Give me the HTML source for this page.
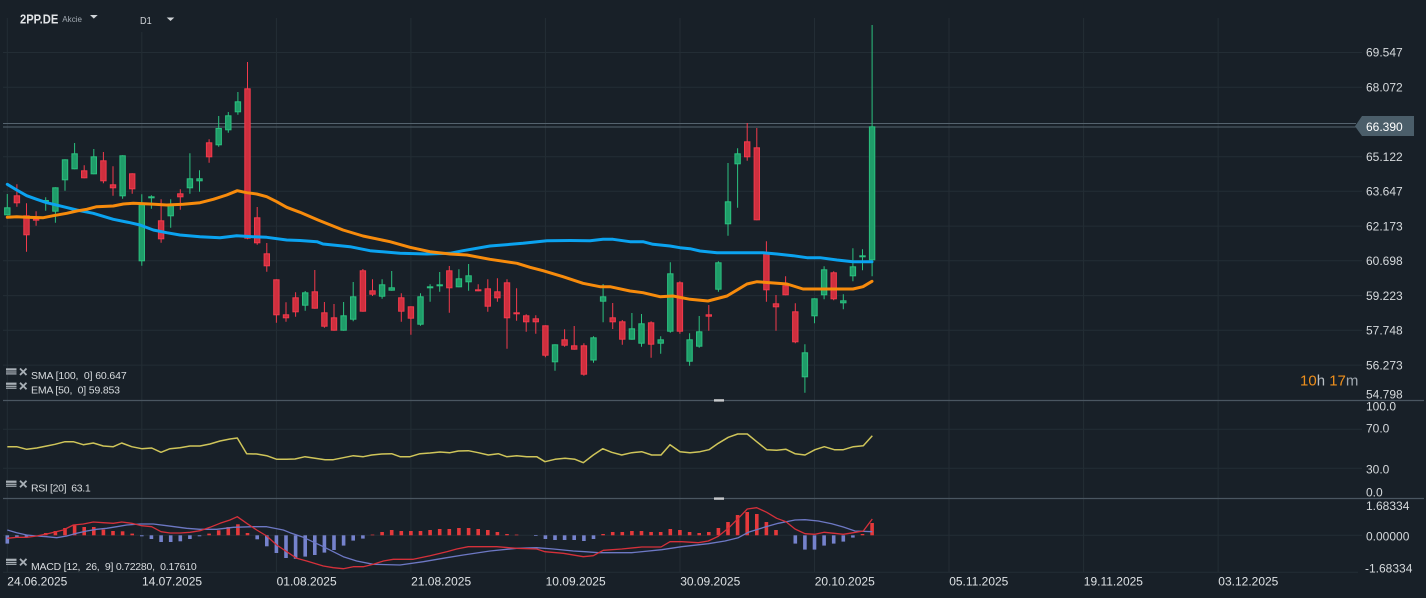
<!DOCTYPE html>
<html><head><meta charset="utf-8"><style>
html,body{margin:0;padding:0;background:#182028;}
svg{display:block;font-family:"Liberation Sans",sans-serif;}
</style></head><body>
<svg width="1426" height="598" viewBox="0 0 1426 598" xmlns="http://www.w3.org/2000/svg">
<rect width="1426" height="598" fill="#182028"/>
<!-- grid -->
<g stroke="#232d35" stroke-width="1" fill="none">
<path d="M3 52.5H1362M3 87.3H1362M3 156.7H1362M3 191.3H1362M3 226.1H1362M3 260.8H1362M3 295.6H1362M3 330.3H1362M3 365.1H1362"/>
<path d="M3 429.3H1362M3 468.3H1362M3 535.3H1362M3 572.3H1358"/>
<path d="M7.3 18V572M141.8 32V572M276.4 18V572M410.9 18V572M545.4 18V572M680 18V572M814.5 18V572M949 18V572M1083.6 18V572M1218.1 18V572"/>
</g>
<!-- separators -->
<g stroke="#4a5661" stroke-width="1.2"><path d="M3 400.5H1424M3 498.5H1424"/></g>
<rect x="714" y="399.2" width="10" height="2.4" fill="#c8cbcd"/>
<rect x="714" y="497.4" width="10" height="2.4" fill="#c8cbcd"/>
<!-- price lines -->
<g stroke="#55636e" stroke-width="1"><path d="M3 123.5H1356M3 127H1356"/></g>

<!-- header -->
<text x="20" y="23.3" font-size="12.5" font-weight="bold" fill="#e2e5e8" textLength="38.3" lengthAdjust="spacingAndGlyphs">2PP.DE</text>
<text x="62.3" y="22" font-size="8.5" fill="#a3abb3" textLength="19.7" lengthAdjust="spacingAndGlyphs">Akcie</text>
<polygon points="90,15 97.7,15 93.8,18.6" fill="#d0d4d8"/>
<text x="140" y="24" font-size="10" fill="#d0d4d8" textLength="11.7" lengthAdjust="spacingAndGlyphs">D1</text>
<polygon points="166.7,17.5 174.3,17.5 170.5,21" fill="#d0d4d8"/>

<!-- candles: wicks -->
<path fill="none" stroke="#2bc07f" stroke-width="1" d="M7.3 194V215.3M45.7 197.3V210.7M55.4 187.3V222.7M65 159.3V190.7M74.6 143V169.3M93.8 149V174.3M122.6 155.3V198.7M141.8 194.3V265.7M151.4 195.3V208.7M170.7 199.3V227.7M189.9 153.3V193.7M199.5 170.3V191.7M218.7 116V146.7M228.3 112V132.7M237.9 92V114.7M305.2 291V310.7M343.6 302V330.7M353.2 282V321.3M382.1 279.3V298.7M391.7 271V290.7M420.5 293.3V325.7M430.1 284.3V301.7M439.7 272V291.7M458.9 269.3V287.3M468.6 264V290.7M555 344.3V370.7M593.5 336.3V362.7M603.1 284V322.3M631.9 313V339.7M641.5 314V346.7M660.7 336.3V353.7M670.3 262.3V332.7M689.6 333.3V365.7M699.2 316V347.7M718.4 261.3V291.7M728 163V235.7M737.6 148.3V207.7M804.9 344.3V392.7M814.5 298.3V323.3M824.1 266.3V299.3M843.3 294.3V309.3M852.9 248.3V281.3M862.5 249.3V270.3M872.1 25V276.3"/>
<path fill="none" stroke="#f23a4c" stroke-width="1" d="M16.9 184.3V206.7M26.5 203.3V251.7M36.1 211.3V225.7M84.2 165.3V178.3M103.4 152V183.3M113 166.3V195.7M132.2 173.3V193.7M161.1 199.3V242.7M180.3 189.3V209.7M209.1 139.3V162.7M247.5 62V239.3M257.2 207V244.7M266.8 243V271.7M276.4 279.3V322.7M286 302.3V321.7M295.6 292.3V316.7M314.8 270V308.7M324.4 302V327.7M334 304V330.7M362.9 269V311.7M372.5 279.3V296M401.3 293.3V321.7M410.9 306.3V334.7M449.3 266V312.7M478.2 284.3V291.3M487.8 279.3V311.7M497.4 278.3V301.7M507 279.3V348.7M516.6 288.3V320.7M526.2 314.3V331.7M535.8 315.3V333.7M545.4 325.3V357.3M564.6 329.3V346.7M574.2 326V349.7M583.9 343.3V375.7M612.7 303V329M622.3 320V344.7M651.1 321.3V357.7M679.9 281.3V333.7M708.8 305V330.7M747.2 123V160.7M756.8 128V220.3M766.4 241.3V301.7M776 295V330.7M785.6 276.3V295.3M795.3 303.3V343.3M833.7 271.3V300.3"/>
<!-- green bodies -->
<g fill="#1f9d69" stroke="#2bc07f" stroke-width="1">
<rect x="4.6" y="207.8" width="5.4" height="7"/>
<rect x="43" y="200.5" width="5.4" height="1"/>
<rect x="52.7" y="187.8" width="5.4" height="23.4"/>
<rect x="62.3" y="159.8" width="5.4" height="20"/>
<rect x="71.9" y="153.8" width="5.4" height="15"/>
<rect x="91.1" y="156.8" width="5.4" height="17"/>
<rect x="119.9" y="155.8" width="5.4" height="40"/>
<rect x="139.1" y="204.8" width="5.4" height="56"/>
<rect x="148.7" y="196.8" width="5.4" height="1"/>
<rect x="168" y="204.2" width="5.4" height="11.6"/>
<rect x="187.2" y="178.8" width="5.4" height="9"/>
<rect x="196.8" y="178.8" width="5.4" height="2"/>
<rect x="216" y="128.5" width="5.4" height="16.3"/>
<rect x="225.6" y="115.8" width="5.4" height="14"/>
<rect x="235.2" y="101.8" width="5.4" height="10"/>
<rect x="302.5" y="292.8" width="5.4" height="12.4"/>
<rect x="340.9" y="315.8" width="5.4" height="14.4"/>
<rect x="350.5" y="296.8" width="5.4" height="22.4"/>
<rect x="379.4" y="284.8" width="5.4" height="11.4"/>
<rect x="389" y="287.8" width="5.4" height="2.4"/>
<rect x="417.8" y="296.8" width="5.4" height="27.4"/>
<rect x="427.4" y="286.8" width="5.4" height="1"/>
<rect x="437" y="284.8" width="5.4" height="1"/>
<rect x="456.2" y="278.8" width="5.4" height="8"/>
<rect x="465.9" y="275.8" width="5.4" height="6"/>
<rect x="552.3" y="344.8" width="5.4" height="17"/>
<rect x="590.8" y="337.8" width="5.4" height="22.2"/>
<rect x="600.4" y="296.8" width="5.4" height="4.4"/>
<rect x="629.2" y="328.8" width="5.4" height="10.4"/>
<rect x="638.8" y="323.8" width="5.4" height="19.4"/>
<rect x="658" y="339.8" width="5.4" height="3.4"/>
<rect x="667.6" y="273.8" width="5.4" height="57.4"/>
<rect x="686.9" y="339.8" width="5.4" height="21.4"/>
<rect x="696.5" y="331.8" width="5.4" height="14.4"/>
<rect x="715.7" y="262.8" width="5.4" height="26.4"/>
<rect x="725.3" y="201.8" width="5.4" height="22"/>
<rect x="734.9" y="153.8" width="5.4" height="10"/>
<rect x="802.2" y="352.8" width="5.4" height="24"/>
<rect x="811.8" y="298.8" width="5.4" height="17"/>
<rect x="821.4" y="269.8" width="5.4" height="25"/>
<rect x="840.6" y="300.8" width="5.4" height="2"/>
<rect x="850.2" y="266.8" width="5.4" height="9"/>
<rect x="859.8" y="255.8" width="5.4" height="1"/>
<rect x="869.4" y="126.8" width="5.4" height="133"/>
</g>
<!-- red bodies -->
<g fill="#cf2f3e" stroke="#f23a4c" stroke-width="1">
<rect x="14.2" y="195.8" width="5.4" height="7"/>
<rect x="23.8" y="215.8" width="5.4" height="19"/>
<rect x="33.4" y="219.2" width="5.4" height="1"/>
<rect x="81.5" y="170.8" width="5.4" height="7"/>
<rect x="100.7" y="160.8" width="5.4" height="20"/>
<rect x="110.3" y="184.8" width="5.4" height="3"/>
<rect x="129.5" y="173.8" width="5.4" height="15"/>
<rect x="158.4" y="220.8" width="5.4" height="18"/>
<rect x="177.6" y="193.8" width="5.4" height="3"/>
<rect x="206.4" y="142.8" width="5.4" height="14"/>
<rect x="244.8" y="88.8" width="5.4" height="149.4"/>
<rect x="254.5" y="217.8" width="5.4" height="25"/>
<rect x="264.1" y="253.8" width="5.4" height="12"/>
<rect x="273.7" y="279.8" width="5.4" height="35"/>
<rect x="283.3" y="314.8" width="5.4" height="3"/>
<rect x="292.9" y="297.8" width="5.4" height="14"/>
<rect x="312.1" y="291.8" width="5.4" height="16.4"/>
<rect x="321.7" y="312.8" width="5.4" height="13.4"/>
<rect x="331.3" y="317.8" width="5.4" height="12.4"/>
<rect x="360.2" y="270.8" width="5.4" height="40.4"/>
<rect x="369.8" y="290.8" width="5.4" height="3.4"/>
<rect x="398.6" y="297.8" width="5.4" height="13.4"/>
<rect x="408.2" y="306.8" width="5.4" height="11.4"/>
<rect x="446.6" y="270.8" width="5.4" height="17"/>
<rect x="475.5" y="289.8" width="5.4" height="1"/>
<rect x="485.1" y="288.8" width="5.4" height="17.4"/>
<rect x="494.7" y="291.8" width="5.4" height="6"/>
<rect x="504.3" y="282.8" width="5.4" height="35"/>
<rect x="513.9" y="312.8" width="5.4" height="1"/>
<rect x="523.5" y="315.8" width="5.4" height="6"/>
<rect x="533.1" y="318.8" width="5.4" height="3"/>
<rect x="542.7" y="325.8" width="5.4" height="29.4"/>
<rect x="561.9" y="339.8" width="5.4" height="5.4"/>
<rect x="571.5" y="345.8" width="5.4" height="3.4"/>
<rect x="581.2" y="345.8" width="5.4" height="28.4"/>
<rect x="610" y="317.8" width="5.4" height="4"/>
<rect x="619.6" y="321.8" width="5.4" height="17.4"/>
<rect x="648.4" y="322.8" width="5.4" height="21.4"/>
<rect x="677.2" y="282.8" width="5.4" height="48.4"/>
<rect x="706.1" y="314.8" width="5.4" height="1.4"/>
<rect x="744.5" y="141.8" width="5.4" height="15"/>
<rect x="754.1" y="147.8" width="5.4" height="72"/>
<rect x="763.7" y="253.8" width="5.4" height="36"/>
<rect x="773.3" y="303.8" width="5.4" height="3"/>
<rect x="782.9" y="285.8" width="5.4" height="9"/>
<rect x="792.6" y="311.8" width="5.4" height="30"/>
<rect x="831" y="272.8" width="5.4" height="26"/>
</g>

<!-- SMA blue -->
<polyline fill="none" stroke="#0ba3f0" stroke-width="3" stroke-linejoin="round" stroke-linecap="round" points="7.3,184.3 16.7,190 26.7,195.7 36.7,199.3 46.7,202.7 63.3,206.7 76.7,210 93.3,213.3 113.3,219.3 130,222.7 140,225 153.3,230 166.7,232.7 180,235 200,236.7 220,237.7 236.7,235.7 253.3,236.7 266.7,237.3 286.7,240 300,240.5 317,241.7 323,244 350,246.7 370,250.7 400,253.3 427,254 450,253.3 463,250.7 490,246 523,243.3 547,240.7 570,240.5 590,240.7 603,239.3 613,239.3 630,241.7 643,241.7 653,244.3 670,246 680,247.7 690,248.7 700,251 717,252.7 763,252.7 777,254 793,255.7 807,257.7 820,257.7 837,260 853,261.7 872,261.7"/>
<!-- EMA orange -->
<polyline fill="none" stroke="#f78b0c" stroke-width="3" stroke-linejoin="round" stroke-linecap="round" points="7.3,217.3 16.7,216.7 26.7,217.3 43.3,217.7 53.3,215.7 66.7,213.3 76.7,211 86.7,209.3 96.7,206.7 113.3,206 123.3,204 133.3,203.3 150,204 166.7,205 183.3,204.3 200,202.7 213.3,199.3 226.7,195 237.3,190.7 246.7,192.7 256.7,194 266.7,196.7 276.7,201.7 286.7,207.3 300,212.3 318,220 343,230 363,236 390,241.7 410,247.3 430,251.7 450,254 467,255 490,259.3 517,263.3 530,267.3 543,270.7 563,276.7 583,283.3 600,286.7 610,286.7 630,291 643,292.7 660,296.7 673,296 690,299.3 708,301 727,296 747,284 757,281.7 777,283.3 787,284 803,289 823,289 853,289 863,286.7 872,281.3"/>

<!-- RSI -->
<polyline fill="none" stroke="#cfc55a" stroke-width="1.5" stroke-linejoin="round" points="7.3,446.7 16.7,446.7 26.7,449.3 36.7,448 46.7,446 55,444.3 65,441.7 73.3,441.7 83.3,444.7 93.3,443 103.3,446 113.3,446.7 121.7,443 131.7,446.7 141.7,448.7 151.7,448 161,452.3 170,448.7 180,447.7 190,446 200,446 210,444 220,441 230,439 237.3,438 246.7,453.7 256.7,454 266.7,455.7 276.7,459.3 286.7,459.3 295,459 305,456.7 315,458.3 325,459.7 333.3,459.7 343.3,457.7 353.3,455.7 363.3,456.7 371.7,455 381.7,454 391.7,453.7 400,456.7 410,456.7 420,453.7 430,453 440,452 450,452.7 458.3,451 468.3,450.7 478.3,452.7 488.3,455 498.3,453.7 506.7,456.7 516.7,455.7 526.7,456.7 536.7,456.7 545,461.7 555,459.3 565,458.3 575,459.3 583.3,462.7 593.3,455 602.7,448.7 611.7,452.3 621.7,455 631.7,452.7 641.7,451.7 651.7,455 661,455 670,444.7 680,451.7 690,452.7 700,451.7 709,449.7 718.3,443.3 728.3,437.3 737.7,434 747.3,434 756.7,441.7 766.7,449.7 776.7,450.3 786,449.3 795,453.7 805,455 815,449.7 824.3,446.7 834.3,449.7 843.3,449.7 853.3,446.7 863.3,445.7 872.3,435.7"/>

<!-- MACD histogram -->
<g fill="#e5393b">
<rect x="43.9" y="533" width="3.6" height="2.3"/><rect x="53.6" y="531" width="3.6" height="4.3"/><rect x="63.2" y="528" width="3.6" height="7.3"/><rect x="72.8" y="525.3" width="3.6" height="10"/><rect x="82.4" y="527" width="3.6" height="8.3"/><rect x="92" y="527" width="3.6" height="8.3"/><rect x="101.6" y="529.6" width="3.6" height="5.7"/><rect x="111.2" y="531" width="3.6" height="4.3"/><rect x="120.8" y="531.3" width="3.6" height="4"/><rect x="130.4" y="533.6" width="3.6" height="1.7"/>
<rect x="207.3" y="533.6" width="3.6" height="1.7"/><rect x="216.9" y="530.3" width="3.6" height="5"/><rect x="226.5" y="527" width="3.6" height="8.3"/><rect x="236.1" y="524.3" width="3.6" height="11"/><rect x="245.7" y="533" width="3.6" height="2.3"/>
<rect x="370.7" y="534.6" width="3.6" height="0.7"/><rect x="380.3" y="532" width="3.6" height="3.3"/><rect x="389.9" y="530" width="3.6" height="5.3"/><rect x="399.5" y="531" width="3.6" height="4.3"/><rect x="409.1" y="531" width="3.6" height="4.3"/><rect x="418.7" y="531" width="3.6" height="4.3"/><rect x="428.3" y="530" width="3.6" height="5.3"/><rect x="437.9" y="529" width="3.6" height="6.3"/><rect x="447.5" y="529" width="3.6" height="6.3"/><rect x="457.1" y="528" width="3.6" height="7.3"/><rect x="466.8" y="528" width="3.6" height="7.3"/><rect x="476.4" y="529" width="3.6" height="6.3"/><rect x="486" y="530" width="3.6" height="5.3"/><rect x="495.6" y="532" width="3.6" height="3.3"/><rect x="505.2" y="534" width="3.6" height="1.3"/><rect x="514.8" y="534.6" width="3.6" height="0.7"/>
<rect x="601.3" y="534" width="3.6" height="1.3"/><rect x="610.9" y="532" width="3.6" height="3.3"/><rect x="620.5" y="532" width="3.6" height="3.3"/><rect x="630.1" y="531" width="3.6" height="4.3"/><rect x="639.7" y="531" width="3.6" height="4.3"/><rect x="649.3" y="532" width="3.6" height="3.3"/><rect x="658.9" y="532" width="3.6" height="3.3"/><rect x="668.5" y="529" width="3.6" height="6.3"/><rect x="678.1" y="530" width="3.6" height="5.3"/><rect x="687.8" y="532" width="3.6" height="3.3"/><rect x="697.4" y="533" width="3.6" height="2.3"/><rect x="707" y="532" width="3.6" height="3.3"/><rect x="716.6" y="528" width="3.6" height="7.3"/><rect x="726.2" y="522" width="3.6" height="13.3"/><rect x="735.8" y="515" width="3.6" height="20.3"/><rect x="745.4" y="512" width="3.6" height="23.3"/><rect x="755" y="514" width="3.6" height="21.3"/><rect x="764.6" y="522" width="3.6" height="13.3"/><rect x="774.2" y="530" width="3.6" height="5.3"/>
<rect x="860.7" y="534" width="3.6" height="1.3"/><rect x="870.3" y="523" width="3.6" height="12.3"/>
</g>
<g fill="#7582cc">
<rect x="5.5" y="535.3" width="3.6" height="8.3"/><rect x="15.1" y="535.3" width="3.6" height="2"/><rect x="24.7" y="535.3" width="3.6" height="2"/>
<rect x="140" y="535.3" width="3.6" height="1"/><rect x="149.6" y="535.3" width="3.6" height="3.7"/><rect x="159.3" y="535.3" width="3.6" height="6.7"/><rect x="168.9" y="535.3" width="3.6" height="6.7"/><rect x="178.5" y="535.3" width="3.6" height="6"/><rect x="188.1" y="535.3" width="3.6" height="3.7"/><rect x="197.7" y="535.3" width="3.6" height="1"/>
<rect x="255.4" y="535.3" width="3.6" height="4"/><rect x="265" y="535.3" width="3.6" height="11"/><rect x="274.6" y="535.3" width="3.6" height="17.7"/><rect x="284.2" y="535.3" width="3.6" height="22.7"/><rect x="293.8" y="535.3" width="3.6" height="23.5"/><rect x="303.4" y="535.3" width="3.6" height="21.3"/><rect x="313" y="535.3" width="3.6" height="19.7"/><rect x="322.6" y="535.3" width="3.6" height="17.3"/><rect x="332.2" y="535.3" width="3.6" height="14.7"/><rect x="341.8" y="535.3" width="3.6" height="10.3"/><rect x="351.4" y="535.3" width="3.6" height="5.3"/><rect x="361.1" y="535.3" width="3.6" height="3.3"/>
<rect x="534" y="535.3" width="3.6" height="0.7"/><rect x="543.6" y="535.3" width="3.6" height="3.7"/><rect x="553.2" y="535.3" width="3.6" height="4.7"/><rect x="562.8" y="535.3" width="3.6" height="4.7"/><rect x="572.4" y="535.3" width="3.6" height="4.7"/><rect x="582.1" y="535.3" width="3.6" height="5.7"/><rect x="591.7" y="535.3" width="3.6" height="3.7"/>
<rect x="793.5" y="535.3" width="3.6" height="8.3"/><rect x="803.1" y="535.3" width="3.6" height="14.3"/><rect x="812.7" y="535.3" width="3.6" height="14.3"/><rect x="822.3" y="535.3" width="3.6" height="10.3"/><rect x="831.9" y="535.3" width="3.6" height="8.3"/><rect x="841.5" y="535.3" width="3.6" height="6.3"/><rect x="851.1" y="535.3" width="3.6" height="2.3"/>
</g>
<!-- MACD signal -->
<polyline fill="none" stroke="#6d78c4" stroke-width="1.3" stroke-linejoin="round" points="7.3,530 16.7,532.7 26.7,535 36.7,536 46.7,536.7 56.7,537.7 66.7,536 76.7,533.3 86.7,531 96.7,529.3 106.7,528.3 116.7,526.7 126.7,525 140,524 153.3,524 166.7,525.7 186.7,528.3 200,529.3 216.7,529.3 233.3,527.3 253.3,526.7 266.7,526.7 283.3,530 290,532.7 303.3,537.3 323.3,546.7 343.3,556.7 356.7,561 373.3,564.3 400,565 423.3,561.7 446.7,557.7 463.3,555 490,551 516.7,548.3 536.7,547.7 553.3,549 573.3,551 585,551.7 598.3,552.7 631.7,552.7 661.7,549.7 681.7,546.7 708.3,543.7 725,541 738.3,537.7 748.3,532.3 765,527 778.3,523.3 795,520 805,519.7 818.3,521 831.7,523.7 843.3,527 855,531 872.3,531.7"/>
<!-- MACD line -->
<polyline fill="none" stroke="#d5303a" stroke-width="1.3" stroke-linejoin="round" points="7.3,538.3 16.7,537.3 26.7,537.3 36.7,536 46.7,534 63.3,530 73.3,525 83.3,524 93.3,522 103.3,522.7 113.3,523.3 121.7,522 131.7,523.3 141.7,525.7 151.7,526.7 161,531.7 170,533 180,533 190,532.3 200,530.7 210,527.3 220,523.3 230,520 237.3,516.7 246.7,523.3 256.7,530 266.7,536 276.7,545 286.7,551.7 296.7,558.3 306.7,561 323.3,566 333.3,567.7 343.3,568.7 353.3,566.7 363.3,566.7 373.3,564.3 383.3,561 393.3,559.3 413.3,559.3 430,555.7 446.7,551.7 456.7,549 468.3,546.7 496.7,546.7 516.7,548.3 536.7,549 545,551.7 563.3,553.3 583.3,556.7 593.3,555.7 603.3,550.3 621.7,549 641.7,547 661,547 670,541.7 681.7,541.7 698.3,542.7 708.3,541 718.3,536.3 728.3,528.3 738.3,518.3 747.3,509 756.7,507.7 766.7,512.3 776.7,518.3 786,521.7 795,529 805,533.7 815,534.3 824.3,532.3 834.3,533.3 843.3,534.3 853.3,532.7 863.3,531 872.3,519"/>

<!-- legend icons -->
<g fill="#a9b0b7">
<rect x="6" y="368.3" width="10.5" height="2.2"/><rect x="6" y="371.4" width="10.5" height="1.2"/><rect x="6" y="373.3" width="10.5" height="1.2"/>
<rect x="6" y="382.6" width="10.5" height="2.2"/><rect x="6" y="385.7" width="10.5" height="1.2"/><rect x="6" y="387.6" width="10.5" height="1.2"/>
<rect x="6" y="480.6" width="10.5" height="2.2"/><rect x="6" y="483.7" width="10.5" height="1.2"/><rect x="6" y="485.6" width="10.5" height="1.2"/>
<rect x="6" y="558.7" width="10.5" height="2.2"/><rect x="6" y="561.8" width="10.5" height="1.2"/><rect x="6" y="563.7" width="10.5" height="1.2"/>
</g>
<g stroke="#a9b0b7" stroke-width="1.8">
<path d="M20 368.5L26.5 375M26.5 368.5L20 375"/>
<path d="M20 382.8L26.5 389.3M26.5 382.8L20 389.3"/>
<path d="M20 480.8L26.5 487.3M26.5 480.8L20 487.3"/>
<path d="M20 558.9L26.5 565.4M26.5 558.9L20 565.4"/>
</g>
<g font-size="10.5" fill="#d8dcdf">
<text x="31" y="379" textLength="95.7" lengthAdjust="spacing">SMA [100,&#160;&#160;0] 60.647</text>
<text x="31" y="393.3" textLength="89" lengthAdjust="spacing">EMA [50,&#160;&#160;0] 59.853</text>
<text x="31" y="491.3" textLength="59.7" lengthAdjust="spacing">RSI [20]&#160;&#160;63.1</text>
<text x="31" y="570" textLength="165.7" lengthAdjust="spacing">MACD [12,&#160;&#160;26,&#160;&#160;9] 0.72280,&#160;&#160;0.17610</text>
</g>

<!-- right axis -->
<g font-size="12" fill="#d5d9dc">
<text x="1366" y="56.6">69.547</text>
<text x="1366" y="91.3">68.072</text>
<text x="1366" y="161">65.122</text>
<text x="1366" y="195.6">63.647</text>
<text x="1366" y="230.4">62.173</text>
<text x="1366" y="265.1">60.698</text>
<text x="1366" y="299.9">59.223</text>
<text x="1366" y="334.6">57.748</text>
<text x="1366" y="369.4">56.273</text>
<text x="1366" y="398.3">54.798</text>
<text x="1366" y="410.7">100.0</text>
<text x="1366" y="432.7">70.0</text>
<text x="1366" y="473.3">30.0</text>
<text x="1366" y="496.7">0.0</text>
<text x="1366" y="510">1.68334</text>
<text x="1366" y="540.3">0.00000</text>
<text x="1365" y="572.7">-1.68334</text>
</g>
<polygon points="1355,126.3 1362,116 1414,116 1414,136 1362,136" fill="#4b5e6a"/>
<text x="1366" y="131" font-size="12" fill="#ffffff">66.390</text>
<text x="1300" y="385.7" font-size="15"><tspan fill="#ee8f1c">10</tspan><tspan fill="#b9bfc5">h</tspan><tspan fill="#ee8f1c"> 17</tspan><tspan fill="#a0a8b0">m</tspan></text>

<!-- dates -->
<g font-size="12" fill="#dde1e4">
<text x="7.3" y="585.7">24.06.2025</text>
<text x="142" y="585.7">14.07.2025</text>
<text x="276.6" y="585.7">01.08.2025</text>
<text x="411.1" y="585.7">21.08.2025</text>
<text x="545.6" y="585.7">10.09.2025</text>
<text x="680.2" y="585.7">30.09.2025</text>
<text x="814.7" y="585.7">20.10.2025</text>
<text x="949.2" y="585.7">05.11.2025</text>
<text x="1083.8" y="585.7">19.11.2025</text>
<text x="1218.3" y="585.7">03.12.2025</text>
</g>
</svg>
</body></html>
